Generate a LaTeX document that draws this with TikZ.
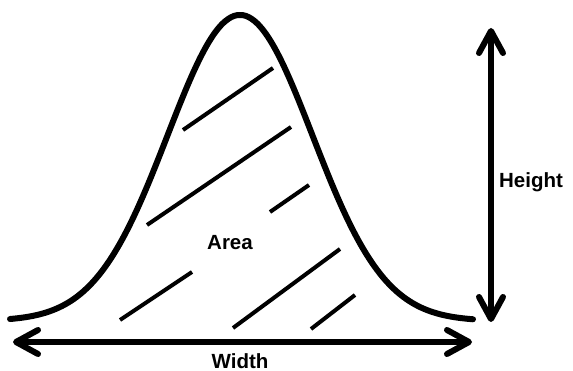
\documentclass[tikz,border=0pt]{standalone}
\usepackage{fontspec}
\setmainfont{Liberation Sans}
\usetikzlibrary{arrows.meta}
\tikzset{
  curveline/.style={line width=6pt, line cap=round, line join=round},
  hatchline/.style={line width=4pt, line cap=butt},
  dimarrow/.style={line width=6pt, {Straight Barb[length=22pt,width=24pt,round]}-{Straight Barb[length=22pt,width=24pt,round]}},
  lbl/.style={font=\bfseries\fontsize{20.5}{24}\selectfont, inner sep=0pt, anchor=base}
}
\begin{document}
\begin{tikzpicture}[x=1pt,y=-1pt]
\useasboundingbox (0,0) rectangle (573,371);
% bell curve
\draw[curveline] plot[domain=10:473, samples=160, smooth] (\x, {321 - 306*exp(-((\x-240)/100)^2/1.05)});
% hatch lines
\coordinate (h1a) at (183,130); \coordinate (h1b) at (273,68);
\coordinate (h2a) at (147,225); \coordinate (h2b) at (291,127);
\coordinate (h3a) at (270,212); \coordinate (h3b) at (309,185);
\coordinate (h4a) at (120,320); \coordinate (h4b) at (192,272);
\coordinate (h5a) at (233,328); \coordinate (h5b) at (340,249);
\coordinate (h6a) at (311,329); \coordinate (h6b) at (355,295);
\foreach \i in {1,...,6} { \draw[hatchline] (h\i a) -- (h\i b); }
% dimension arrows
\coordinate (htop) at (491,28);
\coordinate (hbot) at (491,322);
\coordinate (wl) at (13,342);
\coordinate (wr) at (472,342);
\draw[dimarrow] (htop) -- (hbot);
\draw[dimarrow] (wl) -- (wr);
% labels
\node[lbl] (area) at (230,250) {Area};
\node[lbl] (height) at (531,188) {Height};
\node[lbl] (width) at (240,368) {Width};
\end{tikzpicture}
\end{document}
